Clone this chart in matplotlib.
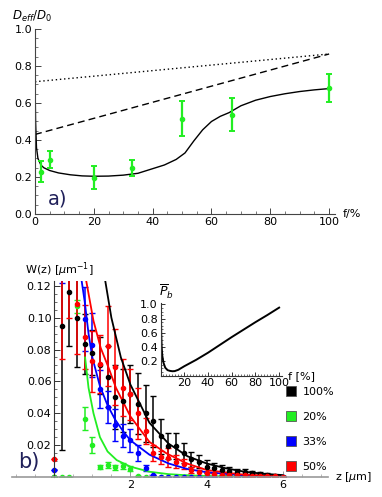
"""Two-panel figure: effective diffusion vs fraction (a) and W(z) histograms (b)."""

import matplotlib

matplotlib.use("Agg")

import matplotlib.pyplot as plt
import numpy as np
from matplotlib.lines import Line2D
from matplotlib.ticker import MultipleLocator

# ---- panel a data -------------------------------------------------------
a_f = [2, 5, 20, 33, 50, 67, 100]
a_val = [0.229, 0.294, 0.197, 0.248, 0.516, 0.537, 0.680]
a_err = [0.057, 0.047, 0.061, 0.045, 0.096, 0.090, 0.077]

a_curve_f = [0, 0.2, 0.5, 1, 2, 3, 5, 8, 12, 16, 20, 25, 30, 35, 40, 44, 48,
             51, 54, 57, 60, 63, 66, 70, 75, 80, 85, 90, 95, 100]
a_curve = [0.725, 0.50, 0.36, 0.30, 0.265, 0.25, 0.235, 0.222, 0.212, 0.206,
           0.204, 0.205, 0.21, 0.22, 0.245, 0.265, 0.295, 0.33, 0.395, 0.455,
           0.50, 0.528, 0.548, 0.585, 0.615, 0.635, 0.65, 0.662, 0.671, 0.678]

dotted_f = [0, 100]
dotted = [0.715, 0.865]
dashed_f = [0, 100]
dashed = [0.43, 0.865]

# ---- panel b data -------------------------------------------------------
z_bins = [round(0.2 * i, 1) for i in range(31)]

black_w = [0.0, 0.095, 0.116, 0.100, 0.0835, 0.078, 0.070, 0.063, 0.050, 0.048,
           0.052, 0.046, 0.040, 0.035, 0.0256, 0.0195, 0.0195, 0.015, 0.011,
           0.0095, 0.0065, 0.0056, 0.0044, 0.0038, 0.0033, 0.003, 0.0025,
           0.0018, 0.0012, 0.0007, 0.0002]
black_e = [0.0, 0.078, 0.034, 0.031, 0.019, 0.014, 0.018, 0.019, 0.020, 0.020,
           0.018, 0.019, 0.018, 0.016, 0.011, 0.008, 0.008, 0.0065, 0.005,
           0.004, 0.004, 0.003, 0.003, 0.0025, 0.002, 0.002, 0.0015, 0.0015,
           0.001, 0.0008, 0.0005]

red_w = [0.011, 0.130, 0.140, 0.1085, 0.0877, 0.0725, 0.071, 0.082, 0.069,
         0.056, 0.052, 0.040, 0.029, 0.0148, 0.0123, 0.012, 0.0096, 0.008,
         0.0044, 0.003, 0.0023, 0.0018, 0.0015, 0.0013, 0.0011, 0.001, 0.0008,
         0.0007, 0.0005, 0.0004, 0.0003]
red_e = [0.0, 0.056, 0.040, 0.031, 0.020, 0.019, 0.018, 0.025, 0.024, 0.018,
         0.016, 0.016, 0.008, 0.005, 0.004, 0.006, 0.004, 0.003, 0.002,
         0.0015, 0.001, 0.001, 0.0008, 0.0008, 0.0006, 0.0006, 0.0005, 0.0004,
         0.0003, 0.0003, 0.0002]

blue_w = [0.0044, 0.160, 0.200, 0.170, 0.099, 0.083, 0.055, 0.044, 0.0325,
          0.026, 0.023, 0.0148, 0.0058, 0.001, 0.0, 0.0, 0.0, 0.0, 0.0, 0.0,
          0.0, 0.0, 0.0, 0.0, 0.0, 0.0, 0.0, 0.0, 0.0, 0.0, 0.0]
blue_e = [0.0, 0.038, 0.050, 0.030, 0.020, 0.020, 0.012, 0.010, 0.010, 0.007,
          0.007, 0.005, 0.002, 0.0, 0.0, 0.0, 0.0, 0.0, 0.0, 0.0, 0.0, 0.0,
          0.0, 0.0, 0.0, 0.0, 0.0, 0.0, 0.0, 0.0, 0.0]

green_w = [0.0, 0.0, 0.0, 0.107, 0.0367, 0.020, 0.0065, 0.0075, 0.006, 0.0069,
           0.0052, 0.0004, 0.0, 0.0, 0.0, 0.0, 0.0, 0.0, 0.0, 0.0, 0.0, 0.0,
           0.0, 0.0, 0.0, 0.0, 0.0, 0.0, 0.0, 0.0, 0.0]
green_e = [0.0, 0.0, 0.0, 0.004, 0.007, 0.005, 0.0012, 0.0018, 0.0015, 0.0018,
           0.0015, 0.0, 0.0, 0.0, 0.0, 0.0, 0.0, 0.0, 0.0, 0.0, 0.0, 0.0, 0.0,
           0.0, 0.0, 0.0, 0.0, 0.0, 0.0, 0.0, 0.0]

# fitted curves
black_fit_z = [1.34, 1.5, 1.75, 2.0, 2.5, 3.0, 3.5, 4.0, 4.5, 5.0, 5.5, 6.0]
black_fit = [0.123, 0.100, 0.075, 0.058, 0.034, 0.021, 0.013, 0.0085, 0.0055,
             0.0033, 0.002, 0.0012]
red_fit_z = [0.84, 1.03, 1.22, 1.42, 1.62, 2.0, 2.5, 2.95, 3.48, 4.0, 4.87, 6.0]
red_fit = [0.123, 0.098, 0.081, 0.069, 0.056, 0.038, 0.022, 0.0148, 0.0085,
           0.0044, 0.0017, 0.0004]
blue_fit_z = [0.72, 0.8, 0.9, 1.0, 1.2, 1.4, 1.6, 1.8, 2.0, 2.5, 3.0, 3.5,
              4.0, 5.0, 6.0]
blue_fit = [0.123, 0.110, 0.090, 0.075, 0.057, 0.045, 0.036, 0.029, 0.023,
            0.014, 0.0085, 0.005, 0.003, 0.001, 0.0003]
green_fit_z = [0.81, 0.9, 1.03, 1.2, 1.4, 1.64, 2.0, 2.5, 3.0, 3.4, 4.0, 5.0, 6.0]
green_fit = [0.075, 0.056, 0.040, 0.025, 0.016, 0.0106, 0.0065, 0.0033, 0.0018,
             0.0012, 0.0006, 0.0002, 0.0]

# inset curve
inset_f = [0.3, 0.6, 1, 1.5, 2.5, 4, 6, 8, 10, 12, 15, 20, 30, 40, 50, 60,
           70, 80, 90, 100]
inset_p = [1.0, 0.6, 0.4, 0.28, 0.18, 0.11, 0.075, 0.065, 0.06, 0.062, 0.08,
           0.13, 0.22, 0.32, 0.43, 0.54, 0.645, 0.75, 0.85, 0.955]

legend_labels = ["100%", "20%", "33%", "50%"]
legend_colors = ["#000000", "#22ee22", "#0000ff", "#ff0000"]

GREEN = "#22ee22"
NAVY = "#20205a"

plt.rcParams["font.family"] = "DejaVu Sans"
plt.rcParams["font.size"] = 8

fig = plt.figure(figsize=(3.82, 4.97), dpi=100)


def axis_style(ax, color):
    for s in ["top", "right"]:
        ax.spines[s].set_visible(False)
    for s in ["left", "bottom"]:
        ax.spines[s].set_color(color)
        ax.spines[s].set_linewidth(0.8)
    ax.tick_params(which="both", direction="in", color=color, labelsize=8,
                   pad=2)
    ax.tick_params(which="major", length=4, width=0.7)
    ax.tick_params(which="minor", length=2, width=0.5)
    ax.patch.set_alpha(0)


# ---- panel a ------------------------------------------------------------
ax_a = fig.add_axes([35 / 382, 1 - 214 / 497, 300 / 382, 185 / 497])
axis_style(ax_a, "#444444")
ax_a.set_xlim(0, 102)
ax_a.set_ylim(0, 1.0)
ax_a.xaxis.set_major_locator(MultipleLocator(20))
ax_a.xaxis.set_minor_locator(MultipleLocator(5))
ax_a.yaxis.set_major_locator(MultipleLocator(0.2))
ax_a.yaxis.set_minor_locator(MultipleLocator(0.05))
ax_a.yaxis.set_major_formatter(lambda v, p: f"{v:.1f}")

ax_a.plot(dotted_f, dotted, color="black", lw=1, ls=(0, (1, 2)))
ax_a.plot(dashed_f, dashed, color="black", lw=1, ls=(0, (5, 3)))
ax_a.plot(a_curve_f, a_curve, color="black", lw=1)
ax_a.errorbar(a_f, a_val, yerr=a_err, fmt="o", ms=3, color=GREEN, ecolor=GREEN,
              elinewidth=1.6, capsize=2.5, capthick=1.4)
ax_a.text(4.5, 0.03, "a)", fontsize=14, color=NAVY, ha="left", va="bottom")
fig.text(12 / 382, 1 - 16 / 497, r"$D_{eff}/D_0$", fontsize=8.5,
         ha="left", va="center")
fig.text(343 / 382, 1 - 214 / 497, "f/%", fontsize=8, ha="left", va="center")

# ---- panel b ------------------------------------------------------------
ax_b = fig.add_axes([12 / 382, 20 / 497, 316 / 382, 196 / 497])
axis_style(ax_b, "#333333")
ax_b.spines["bottom"].set_color("#999999")
ax_b.spines["bottom"].set_linewidth(1.2)
ax_b.spines["left"].set_position(("data", 0))
ax_b.set_xlim(-1.11, 7.19)
ax_b.set_ylim(0, 0.123)
ax_b.set_xticks([2, 4, 6])
ax_b.xaxis.set_minor_locator(MultipleLocator(0.5))
ax_b.yaxis.set_minor_locator(MultipleLocator(0.005))
ax_b.set_yticks([0.02, 0.04, 0.06, 0.08, 0.10, 0.12])
ax_b.yaxis.set_major_formatter(lambda v, p: f"{v:.2f}")
ax_b.tick_params(axis="x", which="both", color="#999999")

series = [
    (black_w, black_e, "black"),
    (green_w, green_e, GREEN),
    (blue_w, blue_e, "#0000ff"),
    (red_w, red_e, "#ff0000"),
]
for w, e, c in series:
    ax_b.errorbar(z_bins, w, yerr=e, fmt="o", ms=3, color=c, ecolor=c,
                  elinewidth=1.1, capsize=2, capthick=1)

ax_b.plot(green_fit_z, green_fit, color=GREEN, lw=1.3)
ax_b.plot(blue_fit_z, blue_fit, color="#0000ff", lw=1.3)
ax_b.plot(red_fit_z, red_fit, color="#ff0000", lw=1.3)
ax_b.plot(black_fit_z, black_fit, color="black", lw=1.3)

ax_b.text(-0.95, 0.003, "b)", fontsize=15, color=NAVY, ha="left",
          va="bottom")
fig.text(25 / 382, 1 - 270 / 497, r"W(z) [$\mu$m$^{-1}$]", fontsize=8,
         ha="left", va="center")
fig.text(335 / 382, 1 - 477 / 497, r"z [$\mu$m]", fontsize=8, ha="left",
         va="center")

handles = [Line2D([], [], marker="s", ls="none", ms=7, markerfacecolor=c,
                  markeredgecolor="#555555", markeredgewidth=0.6)
           for c in legend_colors]
ax_b.legend(handles, legend_labels, loc="upper left",
            bbox_to_anchor=(287 / 382, 1 - 387 / 497),
            bbox_transform=fig.transFigure, frameon=False, fontsize=8,
            handlelength=0.8, handletextpad=0.6, labelspacing=1.35,
            borderpad=0, borderaxespad=0)

# ---- inset --------------------------------------------------------------
ax_i = fig.add_axes([160.5 / 382, 1 - 375.5 / 497, 121 / 382, 72.5 / 497])
axis_style(ax_i, "#333333")
ax_i.set_xlim(0, 102)
ax_i.set_ylim(0, 1.02)
ax_i.set_xticks([20, 40, 60, 80, 100])
ax_i.xaxis.set_minor_locator(MultipleLocator(2.5))
ax_i.set_yticks([0.2, 0.4, 0.6, 0.8, 1.0])
ax_i.yaxis.set_minor_locator(MultipleLocator(0.05))
ax_i.yaxis.set_major_formatter(lambda v, p: f"{v:.1f}")
ax_i.tick_params(which="major", length=3)
ax_i.tick_params(which="minor", length=1.5)
ax_i.plot(inset_f, inset_p, color="black", lw=1.4)
fig.text(159 / 382, 1 - 292 / 497, r"$\overline{P}_b$", fontsize=9,
         ha="left", va="center")
fig.text(288 / 382, 1 - 376 / 497, "f [%]", fontsize=8, ha="left",
         va="center")

fig.savefig("out.png", dpi=100)
plt.close(fig)
